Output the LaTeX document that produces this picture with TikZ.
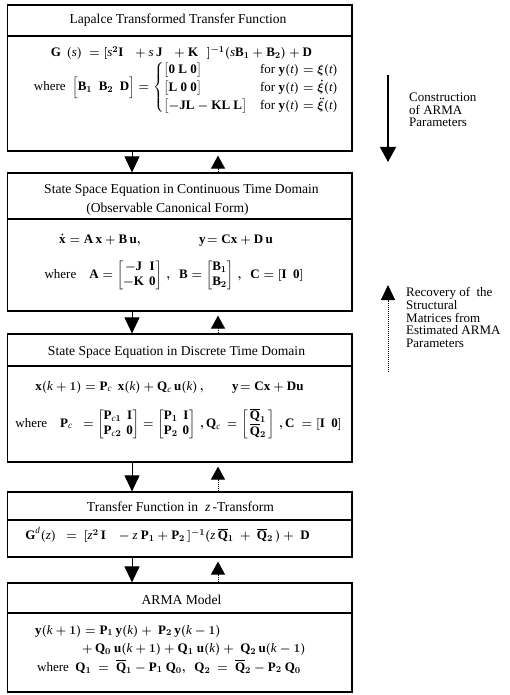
\documentclass[tikz,border=0pt]{standalone}
\usepackage{amsmath}
\usepackage{fontspec}
\setmainfont{Liberation Serif}
\setmathrm{Liberation Serif}[UprightFont=* Bold, ItalicFont=* Italic, BoldFont=* Bold]
\usetikzlibrary{arrows.meta,calc}
\newcommand{\tb}[1]{\text{\bfseries\upshape #1}}
\newcommand{\ti}[1]{\text{\mdseries\itshape #1}}
\begin{document}
\begin{tikzpicture}[x=1pt,y=-1pt,
  box/.style={draw, line width=1.2pt, minimum width=344.5pt, inner sep=0pt},
  sepline/.style={line width=1.2pt},
  ttl/.style={font=\fontsize{13.6}{15}\selectfont, inner sep=0pt},
  eq/.style={font=\fontsize{13}{15}\selectfont\boldmath\setlength{\arraycolsep}{2.5pt}, inner sep=0pt},
  downarr/.style={line width=1pt, -{Triangle[width=15pt,length=16pt]}},
  uparr/.style={line width=1pt, densely dotted, -{Triangle[width=14pt,length=13pt]}},
  note/.style={font=\fontsize{13}{12.7}\selectfont, align=left, inner sep=0pt, anchor=north west}]
\useasboundingbox (0,0) rectangle (509,695);
\fill[white] (0,0) rectangle (509,695);
% boxes
\node[box, minimum height=146pt] (b1) at (179.75,78) {};
\node[box, minimum height=138pt] (b2) at (179.75,242) {};
\node[box, minimum height=128pt] (b3) at (179.75,398) {};
\node[box, minimum height=65pt]  (b4) at (179.75,524.5) {};
\node[box, minimum height=109pt] (b5) at (179.75,637.5) {};
% header separators
\coordinate (s1) at (0,36);
\coordinate (s2) at (0,219);
\coordinate (s3) at (0,366);
\coordinate (s4) at (0,520);
\coordinate (s5) at (0,613);
\draw[sepline] (b1.west |- s1) -- (b1.east |- s1);
\draw[sepline] (b2.west |- s2) -- (b2.east |- s2);
\draw[sepline] (b3.west |- s3) -- (b3.east |- s3);
\draw[sepline] (b4.west |- s4) -- (b4.east |- s4);
\draw[sepline] (b5.west |- s5) -- (b5.east |- s5);
% titles
\node[ttl] (t1) at (178,20) {Lapalce Transformed Transfer Function};
\node[ttl] (t2a) at (181.5,190) {State Space Equation in Continuous Time Domain};
\node[ttl] (t2b) at (167.5,209) {(Observable Canonical Form)};
\node[ttl] (t3) at (176.5,352) {State Space Equation in Discrete Time Domain};
\node[ttl] (t4) at (180.5,507) {Transfer Function in \ \textit{z}\,-Transform};
\node[ttl] (t5) at (181.5,600) {ARMA Model};
% box 1 formulas
\node[eq] (f1) at (181.5,53) {$\tb{G}\ \,(\ti{s})\ =[\ti{s}^2\tb{I}\ \ \,+\ti{s}\,\tb{J}\ \ \,+\tb{K}\ \ \,]^{-1}(\ti{s}\tb{B}_1+\tb{B}_2)+\tb{D}$};
\node[eq] (f2) at (186.5,87.5) {where\ \ $\Bigl[\tb{B}_1\ \ \tb{B}_2\ \ \tb{D}\Bigr]=\begin{cases}
\bigl[\tb{0}\ \tb{L}\ \tb{0}\bigr] & \text{for } \tb{y}(\ti{t})=\xi(\ti{t})\\
\bigl[\tb{L}\ \tb{0}\ \tb{0}\bigr] & \text{for } \tb{y}(\ti{t})=\dot{\xi}(\ti{t})\\
\bigl[-\tb{JL}-\tb{KL}\ \tb{L}\bigr] & \text{for } \tb{y}(\ti{t})=\ddot{\xi}(\ti{t})
\end{cases}$};
% box 2 formulas
\node[eq] (f3) at (166,240) {$\dot{\tb{x}}=\tb{A}\,\tb{x}+\tb{B}\,\tb{u},\hspace{56pt}\tb{y}\!=\tb{C}\tb{x}+\tb{D}\,\tb{u}$};
\node[eq] (f4) at (174,275) {where\ \ \ \ $\tb{A}=\begin{bmatrix}-\tb{J}&\tb{I}\\-\tb{K}&\tb{0}\end{bmatrix}\,,\ \ \tb{B}=\begin{bmatrix}\tb{B}_1\\\tb{B}_2\end{bmatrix}\,,\ \ \tb{C}=[\tb{I}\ \ \tb{0}]$};
% box 3 formulas
\node[eq] (f5) at (169.5,387) {$\tb{x}(\ti{k}+1)=\tb{P}_{\ti{c}}\ \,\tb{x}(\ti{k})+\tb{Q}_{\ti{c}}\,\tb{u}(\ti{k})\,,\hspace{2em}\tb{y}\!=\tb{C}\tb{x}+\tb{D}\tb{u}$};
\node[eq] (f6) at (178.5,424) {where\ \ \ \ $\tb{P}_{\ti{c}}\ \ =\begin{bmatrix}\tb{P}_{\ti{c}1}&\tb{I}\\\tb{P}_{\ti{c}2}&\tb{0}\end{bmatrix}=\begin{bmatrix}\tb{P}_1&\tb{I}\\\tb{P}_2&\tb{0}\end{bmatrix}\,,\tb{Q}_{\ti{c}}\,=\begin{bmatrix}\,\overline{\tb{Q}}_1\,\\\,\overline{\tb{Q}}_2\,\end{bmatrix}\,,\tb{C}\ =[\tb{I}\ \ \tb{0}]$};
% box 4 formula
\node[eq] (f7) at (167.5,535) {$\tb{G}^{\ti{d}}(\ti{z})\ \ =\ [\ti{z}^2\,\tb{I}\ \ \ -\ti{z}\ \tb{P}_1+\tb{P}_2\,]^{-1}(\ti{z}\,\overline{\tb{Q}}_1\ +\ \overline{\tb{Q}}_2\,)+\ \tb{D}$};
% box 5 formulas
\node[eq, anchor=base west] (f8) at (35,634) {$\tb{y}(\ti{k}+1)=\tb{P}_1\,\tb{y}(\ti{k})+\ \tb{P}_2\,\tb{y}(\ti{k}-1)$};
\node[eq, anchor=base west] (f9) at (82,652) {$+\,\tb{Q}_0\ \tb{u}(\ti{k}+1)+\tb{Q}_1\ \tb{u}(\ti{k})+\ \tb{Q}_2\,\tb{u}(\ti{k}-1)$};
\node[eq, anchor=base west] (f10) at (37,671) {where\ \ $\tb{Q}_1\ =\ \overline{\tb{Q}}_1-\tb{P}_1\ \tb{Q}_0,\ \ \tb{Q}_2\ =\ \overline{\tb{Q}}_2-\tb{P}_2\ \tb{Q}_0$};
% connecting arrows
\coordinate (dx) at (132,0);
\coordinate (ux) at (218,0);
\coordinate (gap) at (0,4);
\draw[downarr] (b1.south -| dx) -- (b2.north -| dx);
\draw[downarr] (b2.south -| dx) -- (b3.north -| dx);
\draw[downarr] (b3.south -| dx) -- (b4.north -| dx);
\draw[downarr] (b4.south -| dx) -- (b5.north -| dx);
\draw[uparr] (b2.north -| ux) -- ($(b1.south -| ux)+(gap)$);
\draw[uparr] (b3.north -| ux) -- ($(b2.south -| ux)+(gap)$);
\draw[uparr] (b4.north -| ux) -- ($(b3.south -| ux)+(gap)$);
\draw[uparr] (b5.north -| ux) -- ($(b4.south -| ux)+(gap)$);
% legend arrows
\coordinate (ca) at (388,75);
\coordinate (cb) at (388,162);
\draw[line width=1.2pt, -{Triangle[width=16pt,length=15pt]}] (ca) -- (cb);
\node[note] (lc) at (409,92.5) {Construction\\of ARMA\\Parameters};
\coordinate (ra) at (388,372);
\coordinate (rb) at (388,285);
\draw[line width=1pt, densely dotted, -{Triangle[width=14pt,length=15pt]}] (ra) -- (rb);
\node[note] (lr) at (406,287.5) {Recovery of \ the\\Structural\\Matrices from\\Estimated ARMA\\Parameters};
\end{tikzpicture}
\end{document}
